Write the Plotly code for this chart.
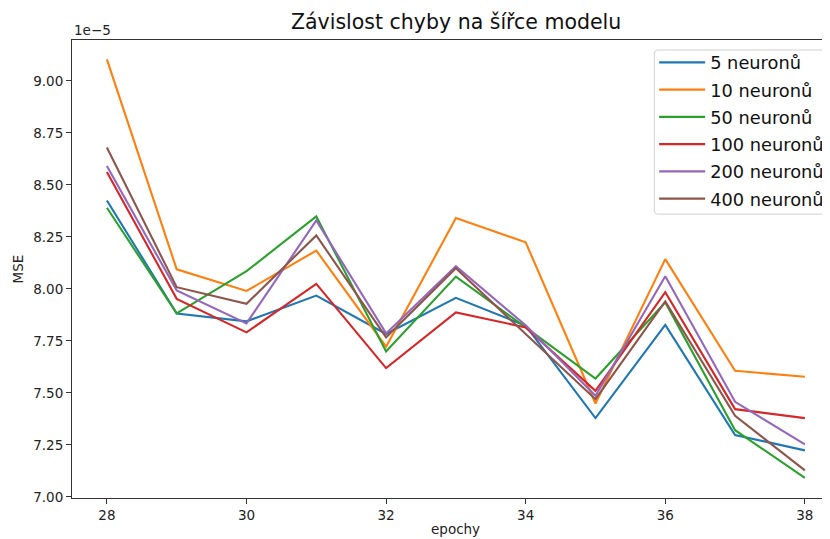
import plotly.graph_objects as go

epochs = [28, 29, 30, 31, 32, 33, 34, 35, 36, 37, 38]

# MSE values in units of 1e-5
mse_5 = [8.425, 7.882, 7.844, 7.968, 7.783, 7.957, 7.823, 7.379, 7.827, 7.298, 7.224]
mse_10 = [9.103, 8.094, 7.990, 8.184, 7.722, 8.340, 8.224, 7.449, 8.143, 7.606, 7.578]
mse_50 = [8.390, 7.882, 8.085, 8.348, 7.699, 8.059, 7.815, 7.569, 7.935, 7.321, 7.092]
mse_100 = [8.562, 7.952, 7.791, 8.024, 7.619, 7.887, 7.815, 7.510, 7.984, 7.422, 7.379]
mse_200 = [8.591, 7.992, 7.834, 8.329, 7.786, 8.109, 7.825, 7.486, 8.061, 7.457, 7.253]
mse_400 = [8.679, 8.008, 7.928, 8.257, 7.767, 8.099, 7.783, 7.470, 7.940, 7.390, 7.128]

series_names = ["5 neuronů", "10 neuronů", "50 neuronů", "100 neuronů", "200 neuronů", "400 neuronů"]
series_values = [mse_5, mse_10, mse_50, mse_100, mse_200, mse_400]
colors = ["#1f77b4", "#ff7f0e", "#2ca02c", "#d62728", "#9467bd", "#8c564b"]

y_ticks = [7.00, 7.25, 7.50, 7.75, 8.00, 8.25, 8.50, 8.75, 9.00]
x_ticks = [28, 30, 32, 34, 36, 38]

FONT = "DejaVu Sans"

# plot area in figure pixels
W, H = 822, 531
ML, MT, MB = 64, 32, 41.3
PW, PH = W - ML, H - MT - MB


def px(xp):
    return xp / PW


def py(yp):
    return 1 - yp / PH


fig = go.Figure()
for name, vals, col in zip(series_names, series_values, colors):
    fig.add_trace(go.Scatter(x=epochs, y=vals, mode="lines", name=name, legendgroup=name,
                             line=dict(color=col, width=2.1)))

axis_common = dict(showline=True, linecolor="#333333", linewidth=1.1,
                   ticks="outside", ticklen=5, tickwidth=1.1, tickcolor="#333333",
                   showgrid=False, zeroline=False,
                   tickfont=dict(family=FONT, size=13.5, color="#222222"))

fig.update_xaxes(range=[27.5, 38.36], tickvals=x_ticks, mirror=True, **axis_common)
fig.update_yaxes(range=[6.995, 9.196], tickvals=y_ticks,
                 ticktext=[f"{v:.2f}" for v in y_ticks], mirror=False, **axis_common)

# legend frame (rounded box, cut by the right edge like the reference)
bx0, by0, bx1, by1, r = 582.3, 10, 780, 174, 4
path = (f"M {px(bx0 + r)},{py(by0)} L {px(bx1)},{py(by0)} L {px(bx1)},{py(by1)} "
        f"L {px(bx0 + r)},{py(by1)} Q {px(bx0)},{py(by1)} {px(bx0)},{py(by1 - r)} "
        f"L {px(bx0)},{py(by0 + r)} Q {px(bx0)},{py(by0)} {px(bx0 + r)},{py(by0)} Z")

fig.update_layout(
    width=W, height=H,
    margin=dict(l=ML, r=0, t=MT, b=MB, autoexpand=False),
    paper_bgcolor="white", plot_bgcolor="white",
    showlegend=True,
    shapes=[dict(type="path", path=path, xref="paper", yref="paper",
                 line=dict(color="#d0d0d0", width=1), fillcolor="rgba(255,255,255,0.8)",
                 layer="above")],
    legend=dict(x=0.768, y=0.9906, xanchor="left", yanchor="top", itemwidth=46,
                bgcolor="rgba(0,0,0,0)", borderwidth=0, tracegroupgap=1.1,
                font=dict(family=FONT, size=17.8, color="#111111")),
    annotations=[
        dict(text="Závislost chyby na šířce modelu", xref="x", yref="paper", x=33, y=1.0087,
             xanchor="center", yanchor="bottom", showarrow=False,
             font=dict(family=FONT, size=20.5, color="#111111")),
        dict(text="1e−5", xref="paper", yref="paper", x=0, y=1, xanchor="left", yanchor="bottom",
             showarrow=False, yshift=0, font=dict(family=FONT, size=13.5, color="#222222")),
        dict(text="epochy", xref="x", yref="paper", x=33, y=-0.0902, xanchor="center", yanchor="bottom",
             showarrow=False, font=dict(family=FONT, size=13.5, color="#222222")),
        dict(text="MSE", xref="paper", yref="paper", x=-0.0706, y=0.5, xanchor="center", yanchor="middle",
             textangle=-90, showarrow=False, font=dict(family=FONT, size=13.5, color="#222222")),
    ],
)

fig.write_html("out.html")
